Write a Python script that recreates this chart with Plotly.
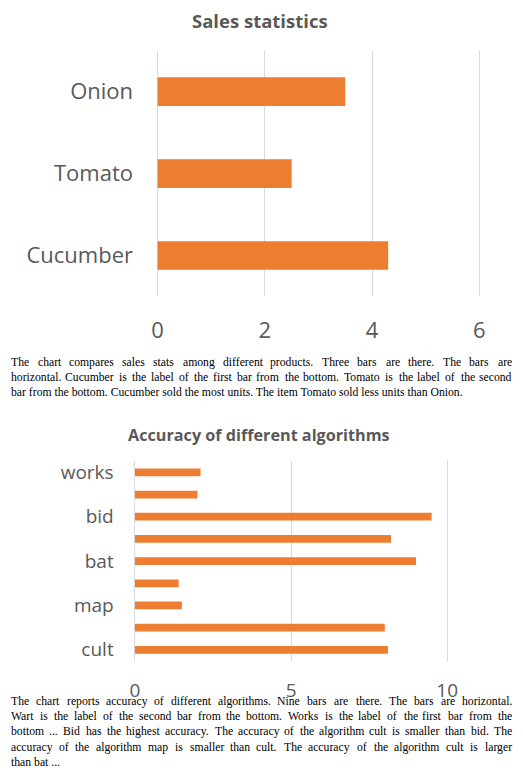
import plotly.graph_objects as go

W, H = 523, 774

# ---- data ----
sales_categories = ["Cucumber", "Tomato", "Onion"]
sales_values = [4.3, 2.5, 3.5]
sales_ticks = [0, 2, 4, 6]

algo_labels = ["cult", "", "map", "", "bat", "", "bid", "", "works"]
algo_values = [8.1, 8.0, 1.5, 1.4, 9.0, 8.2, 9.5, 2.0, 2.1]
algo_ticks = [0, 5, 10]

title_top = "Sales statistics"
title_bottom = "Accuracy of different algorithms"

caption_top = [
    "The chart compares sales stats among different products. Three bars are there. The bars are",
    "horizontal. Cucumber is the label of the first bar from the bottom. Tomato is the label of the second",
    "bar from the bottom. Cucumber sold the most units. The item Tomato sold less units than Onion.",
]
caption_bottom = [
    "The chart reports accuracy of different algorithms. Nine bars are there. The bars are horizontal.",
    "Wart is the label of the second bar from the bottom. Works is the label of the first bar from the",
    "bottom ... Bid has the highest accuracy. The accuracy of the algorithm cult is smaller than bid. The",
    "accuracy of the algorithm map is smaller than cult. The accuracy of the algorithm cult is larger",
    "than bat ...",
]

ORANGE = "#ED7D31"
GRID = "#D9D9D9"
TXT = "#595959"
SANS = "Open Sans, Noto Sans, sans-serif"
SERIF = "Liberation Serif, Times New Roman, serif"

# Times / Liberation Serif advance widths (per 1000 em), used to justify the caption text
TIMES_W = {
    " ": 250, ".": 250, ",": 250, "'": 180, "-": 333,
    "A": 722, "B": 667, "C": 667, "D": 722, "E": 611, "F": 556, "G": 722, "H": 722,
    "I": 333, "J": 389, "K": 722, "L": 611, "M": 889, "N": 722, "O": 722, "P": 556,
    "Q": 722, "R": 667, "S": 556, "T": 611, "U": 722, "V": 722, "W": 944, "X": 722,
    "Y": 722, "Z": 611,
    "a": 444, "b": 500, "c": 444, "d": 500, "e": 444, "f": 333, "g": 500, "h": 500,
    "i": 278, "j": 278, "k": 500, "l": 278, "m": 778, "n": 500, "o": 500, "p": 500,
    "q": 500, "r": 333, "s": 389, "t": 278, "u": 500, "v": 500, "w": 722, "x": 500,
    "y": 500, "z": 444,
}


def text_width(s, size):
    return sum(TIMES_W.get(c, 500) for c in s) * size / 1000.0


def px_x(p):
    return p / W


def px_y(p):
    return 1 - p / H


fig = go.Figure()

fig.add_trace(go.Bar(
    x=sales_values, y=sales_categories, orientation="h",
    marker=dict(color=ORANGE, line=dict(width=0)), width=0.35,
    xaxis="x", yaxis="y", showlegend=False, hoverinfo="x+y",
))

algo_pos = list(range(len(algo_values)))
fig.add_trace(go.Bar(
    x=algo_values, y=algo_pos, orientation="h",
    marker=dict(color=ORANGE, line=dict(width=0)), width=0.35,
    xaxis="x2", yaxis="y2", showlegend=False, hoverinfo="x",
))

common_x = dict(showgrid=True, gridcolor=GRID, gridwidth=1, zeroline=False,
                showline=False, ticks="outside", tickcolor="rgba(0,0,0,0)",
                fixedrange=True)
common_y = dict(showgrid=False, zeroline=False, showline=False, ticks="outside",
                tickcolor="rgba(0,0,0,0)", fixedrange=True)

fig.update_layout(
    width=W, height=H,
    margin=dict(l=0, r=0, t=0, b=0),
    paper_bgcolor="white", plot_bgcolor="white",
    xaxis=dict(common_x, domain=[px_x(155.0), px_x(488.7)], range=[-0.04, 6.04],
               tickvals=sales_ticks, ticklen=14,
               tickfont=dict(family=SANS, size=22, color=TXT), anchor="y"),
    yaxis=dict(common_y, domain=[px_y(296), px_y(49)], range=[-0.5, 2.5],
               type="category", ticklen=17,
               tickfont=dict(family=SANS, size=22, color=TXT), anchor="x"),
    xaxis2=dict(common_x, domain=[px_x(131.5), px_x(456.2)], range=[-0.08, 10.08],
                tickvals=algo_ticks, ticklen=12,
                tickfont=dict(family=SANS, size=19, color=TXT), anchor="y2"),
    yaxis2=dict(common_y, domain=[px_y(662.3), px_y(461.7)], range=[-0.5, 8.5],
                tickvals=algo_pos, ticktext=algo_labels, ticklen=14,
                tickfont=dict(family=SANS, size=19, color=TXT), anchor="x2"),
)

annotations = [
    dict(text="<b>%s</b>" % title_top, x=px_x(262), y=px_y(19), xref="paper",
         yref="paper", xanchor="center", yanchor="middle", showarrow=False,
         font=dict(family=SANS, size=18.5, color=TXT)),
    dict(text="<b>%s</b>" % title_bottom, x=px_x(261), y=px_y(435), xref="paper",
         yref="paper", xanchor="center", yanchor="middle", showarrow=False,
         font=dict(family=SANS, size=16.2, color=TXT)),
]

CAP_L, CAP_R = 7, 520
CAP_SIZE = 11.7
CAP_FONT = dict(family=SERIF, size=CAP_SIZE, color="black")


def word_ann(text, x, y, anchor):
    return dict(text=text, x=px_x(x), y=px_y(y), xref="paper", yref="paper",
                xanchor=anchor, yanchor="middle", showarrow=False,
                borderpad=0, borderwidth=0, font=CAP_FONT)


def add_caption(lines, y0, dy):
    for i, line in enumerate(lines):
        y = y0 + i * dy
        if i == len(lines) - 1:
            annotations.append(word_ann(line, CAP_L, y, "left"))
            continue
        words = line.split(" ")
        widths = [text_width(w, CAP_SIZE) for w in words]
        n = len(words)
        gap = (CAP_R - CAP_L - sum(widths)) / (n - 1)
        half = n // 2
        for k in range(n):
            if k < half:
                x = CAP_L + sum(widths[:k]) + k * gap
                annotations.append(word_ann(words[k], x, y, "left"))
            else:
                x = CAP_R - sum(widths[k + 1:]) - (n - 1 - k) * gap
                annotations.append(word_ann(words[k], x, y, "right"))


add_caption(caption_top, 362.8, 15.1)
add_caption(caption_bottom, 702.7, 15.4)

fig.update_layout(annotations=annotations)

fig.write_html("out.html", config={"displayModeBar": False},
               post_script="document.body.style.margin='0';document.body.style.overflow='hidden';")
